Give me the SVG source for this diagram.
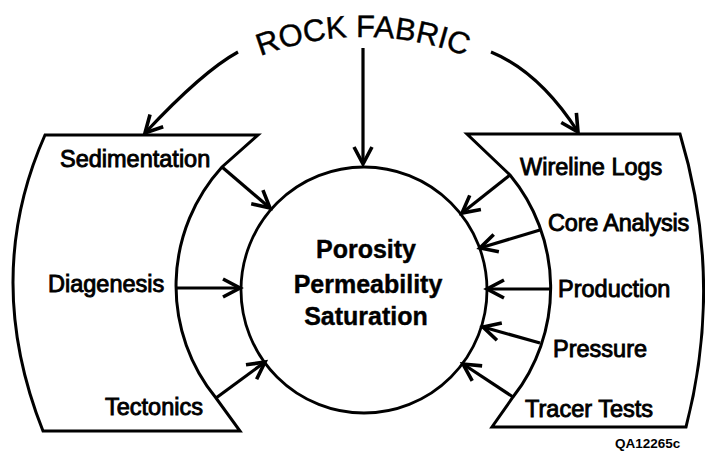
<svg xmlns="http://www.w3.org/2000/svg" width="705" height="455" viewBox="0 0 705 455">
<style>
.shape{fill:none;stroke:#000;stroke-width:3;stroke-linejoin:miter}
.circ{fill:none;stroke:#000;stroke-width:2.8}
.conn{fill:none;stroke:#000;stroke-width:3.2;stroke-linecap:butt}
.lbl{font-family:"Liberation Sans",Arial,Helvetica,sans-serif;font-size:23.5px;fill:#000;stroke:#000;stroke-width:0.9}
.ctr{font-family:"Liberation Sans",Arial,Helvetica,sans-serif;font-size:25px;font-weight:bold;fill:#000;stroke:#000;stroke-width:0.4;text-anchor:middle}
.title{font-family:"Liberation Sans",Arial,Helvetica,sans-serif;font-size:31px;fill:#000;stroke:#000;stroke-width:0.4}
.code{font-family:"Liberation Sans",Arial,Helvetica,sans-serif;font-size:13.5px;font-weight:bold;fill:#000}
</style>
<defs>
<marker id="ah" markerUnits="userSpaceOnUse" viewBox="-20 -12 22 24" refX="0" refY="0" markerWidth="22" markerHeight="24" orient="auto" overflow="visible">
<path d="M-17,-9 L0,0 L-17,9" fill="none" stroke="#000" stroke-width="3.6"/>
</marker>
<path id="arcPath" d="M78,322 A285,285 0 0 1 648,322"/>
</defs>
<rect width="705" height="455" fill="#fff"/>

<g id="rock-fabric">
<text class="title"><textPath href="#arcPath" startOffset="50%" text-anchor="middle">ROCK FABRIC</textPath></text>
</g>

<g id="geology">
<path class="shape" d="M45,135 L258,135 L222,167 A177,177 0 0 0 216,398 L240,431 L43,431 Q-18,277 45,135 Z"/>
<text class="lbl" x="60" y="167">Sedimentation</text>
<text class="lbl" x="48" y="292">Diagenesis</text>
<text class="lbl" x="105" y="415">Tectonics</text>
</g>

<g id="engineering">
<path class="shape" d="M467,134 L680,134 Q724,280 686,427 L492,427 L513,397 A177,177 0 0 0 510,175 Z"/>
<text class="lbl" x="520" y="175">Wireline Logs</text>
<text class="lbl" x="548" y="231" letter-spacing="-0.2">Core Analysis</text>
<text class="lbl" x="558" y="297">Production</text>
<text class="lbl" x="553" y="357">Pressure</text>
<text class="lbl" x="525" y="417">Tracer Tests</text>
</g>

<g id="properties">
<circle class="circ" cx="364" cy="290" r="123"/>
<text class="ctr" x="366" y="258">Porosity</text>
<text class="ctr" x="368" y="293">Permeability</text>
<text class="ctr" x="366" y="325">Saturation</text>
</g>

<g id="connectors">
<path class="conn" d="M238,52 Q202.5,71.5 145,133" marker-end="url(#ah)"/>
<path class="conn" d="M363,48 L363,164" marker-end="url(#ah)"/>
<path class="conn" d="M491,52 Q539.5,72 578,132" marker-end="url(#ah)"/>
<path class="conn" d="M222,167 L270,208" marker-end="url(#ah)"/>
<path class="conn" d="M176,288 L240,288" marker-end="url(#ah)"/>
<path class="conn" d="M216,398 L265,362" marker-end="url(#ah)"/>
<path class="conn" d="M510,175 L462,213" marker-end="url(#ah)"/>
<path class="conn" d="M540,230 L480,248" marker-end="url(#ah)"/>
<path class="conn" d="M550,289 L487,289" marker-end="url(#ah)"/>
<path class="conn" d="M540,343 L483,327" marker-end="url(#ah)"/>
<path class="conn" d="M513,397 L463,364" marker-end="url(#ah)"/>
</g>

<text class="code" x="615" y="448">QA12265c</text>
</svg>
